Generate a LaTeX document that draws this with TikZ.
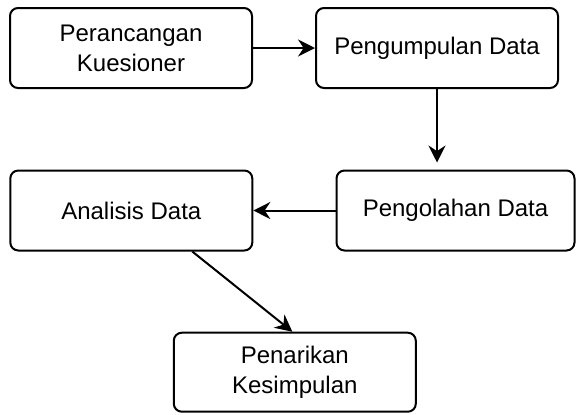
\documentclass[tikz,border=0pt]{standalone}
\usepackage{fontspec}
\setmainfont{Liberation Sans}
\usetikzlibrary{arrows.meta,calc}
\begin{document}
\begin{tikzpicture}[x=0.5pt,y=-0.5pt,
  box/.style={draw=black, line width=1pt, rounded corners=4pt, fill=white,
    minimum width=121pt, minimum height=40pt, align=center, inner sep=0pt,
    font=\fontsize{12}{15}\selectfont},
  conn/.style={draw=black, line width=1pt, -{Stealth[length=8.5pt,width=8.5pt,inset=2.8pt]}}
]
\useasboundingbox[fill=white] (0,0) rectangle (576,414);
\node[box] (b1) at (131,48) {Perancangan\\Kuesioner};
\node[box] (b2) at (437,48) {Pengumpulan Data};
\node[box, minimum width=119pt] (b3) at (455.5,210.5) {Pengolahan Data};
\node[box] (b4) at (131.3,210.5) {Analisis Data};
\node[box, minimum height=39.5pt] (b5) at (294.8,372.2) {Penarikan\\Kesimpulan};
\coordinate (t2) at (437,162.5);
\draw[conn] (b1.east) -- (b2.west);
\draw[conn] (b2.south) -- (t2);
\draw[conn] (b3.west) -- (b4.east);
\draw[conn] ($(b4.south west)!0.75!(b4.south east)$) -- ($(b5.north west)!0.49!(b5.north east)$);
\end{tikzpicture}
\end{document}
